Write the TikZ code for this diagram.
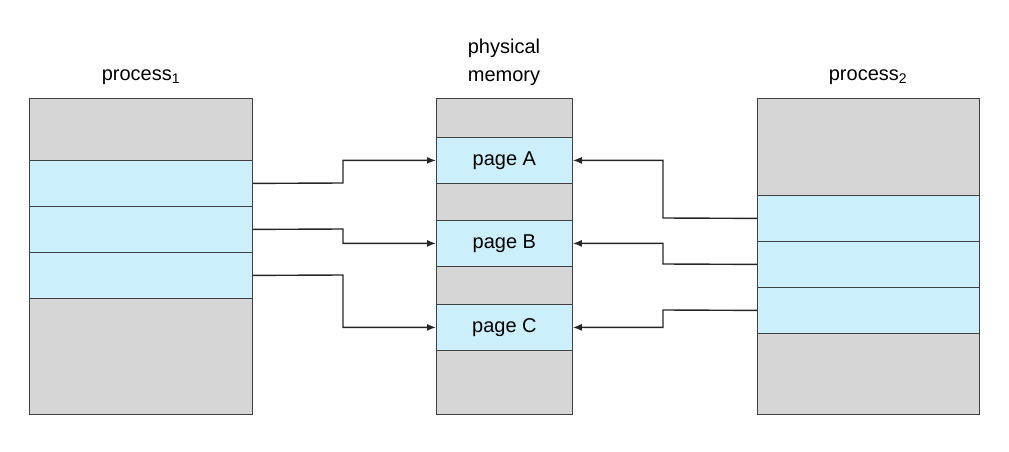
\documentclass[tikz,border=0pt]{standalone}
\usepackage{fontspec}
\setmainfont{Liberation Sans}
\begin{document}
\begin{tikzpicture}[x=1pt,y=-1pt,
  seg/.style={draw=black!75,line width=0.8pt,inner sep=0pt,anchor=north west,minimum width=#1},
  gr/.style={fill=gray!32},
  bl/.style={fill=cyan!20!white},
  arr/.style={draw=black!85,line width=1.4pt,-{Latex[length=9pt,width=7pt]}},
  lbl/.style={font=\fontsize{20}{23}\selectfont,align=center}]
\usetikzlibrary{arrows.meta}
\useasboundingbox (0,0) rectangle (1009,452);
% process 1
\node[seg=223pt,gr,minimum height=62pt] (a0) at (29,98) {};
\node[seg=223pt,bl,minimum height=46pt] (a1) at (29,160) {};
\node[seg=223pt,bl,minimum height=46pt] (a2) at (29,206) {};
\node[seg=223pt,bl,minimum height=46pt] (a3) at (29,252) {};
\node[seg=223pt,gr,minimum height=116pt] (a4) at (29,298) {};
% physical memory
\node[seg=136pt,gr,minimum height=39pt] (m0) at (436,98) {};
\node[seg=136pt,bl,minimum height=46pt,lbl] (pA) at (436,137) {page A};
\node[seg=136pt,gr,minimum height=37pt] (m1) at (436,183) {};
\node[seg=136pt,bl,minimum height=46pt,lbl] (pB) at (436,220) {page B};
\node[seg=136pt,gr,minimum height=38pt] (m2) at (436,266) {};
\node[seg=136pt,bl,minimum height=46pt,lbl] (pC) at (436,304) {page C};
\node[seg=136pt,gr,minimum height=64pt] (m3) at (436,350) {};
% process 2
\node[seg=222pt,gr,minimum height=97pt] (b0) at (757,98) {};
\node[seg=222pt,bl,minimum height=46pt] (b1) at (757,195) {};
\node[seg=222pt,bl,minimum height=46pt] (b2) at (757,241) {};
\node[seg=222pt,bl,minimum height=46pt] (b3) at (757,287) {};
\node[seg=222pt,gr,minimum height=81pt] (b4) at (757,333) {};
% labels
\node[lbl] (l1) at (141,77) {process\textsubscript{1}};
\node[lbl,font=\fontsize{20}{28}\selectfont] (lm) at (504,62) {physical\\memory};
\node[lbl] (l2) at (868,77) {process\textsubscript{2}};
% arrows
\draw[arr] (a1.east) -- (343,183) |- (pA.west);
\draw[arr] (a2.east) -- (343,229) |- (pB.west);
\draw[arr] (a3.east) -- (343,275) |- (pC.west);
\draw[arr] (b1.west) -- (663,218) |- (pA.east);
\draw[arr] (b2.west) -- (663,264) |- (pB.east);
\draw[arr] (b3.west) -- (663,310) |- (pC.east);
\end{tikzpicture}
\end{document}
